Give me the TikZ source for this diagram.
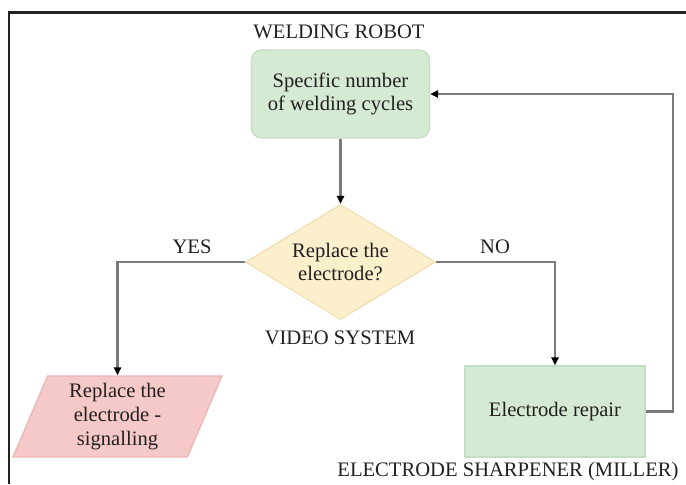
\documentclass[tikz,border=0pt]{standalone}
\usepackage{fontspec}
\setmainfont{Liberation Serif}
\usetikzlibrary{arrows.meta,shapes.geometric}

\definecolor{txt}{HTML}{231F20}
\definecolor{frameline}{HTML}{222222}
\definecolor{flowline}{HTML}{7A7A7A}
\definecolor{greenfill}{HTML}{D5EAD3}
\definecolor{greenedge}{HTML}{C4DEC1}
\definecolor{yellowfill}{HTML}{FCEFCC}
\definecolor{yellowedge}{HTML}{F1DFB2}
\definecolor{redfill}{HTML}{F5C9C8}
\definecolor{rededge}{HTML}{EDB4B3}

\begin{document}
\begin{tikzpicture}[x=0.5pt,y=-0.5pt,
  font=\fontsize{10.3}{11.8}\selectfont,
  every node/.style={text=txt, align=center},
  robotbox/.style={draw=greenedge, fill=greenfill, line width=0.6pt,
    rounded corners=5pt, minimum width=89pt, minimum height=44pt},
  repairbox/.style={draw=greenedge, fill=greenfill, line width=0.6pt,
    minimum width=90pt, minimum height=45.5pt},
  askdiamond/.style={diamond, aspect=1.65, draw=yellowedge, fill=yellowfill, line width=0.6pt,
    inner sep=0pt, minimum width=95pt, minimum height=57.5pt},
  signalbox/.style={trapezium, trapezium stretches body, draw=rededge, fill=redfill,
    line width=0.6pt, trapezium left angle=63.7, trapezium right angle=116.3,
    inner sep=1pt, minimum width=104.5pt, minimum height=40.5pt},
  flow/.style={draw=flowline, line width=1.2pt,
    -{Triangle[length=4pt,width=3.6pt,color=black]}}]
\useasboundingbox (0,0) rectangle (686,484);

% frame
\draw[frameline, line width=1.1pt] (9,484) -- (9,12.5) -- (686,12.5);

% blocks
\node[robotbox] (cycles) at (340.5,94) {Specific number\\of welding cycles};
\node[askdiamond] (question) at (340.5,262) {Replace the\\electrode?};
\node[signalbox] (signal) at (117.5,416.5) {Replace the\\electrode -\\signalling};
\node[repairbox] (repair) at (555,411.5) {Electrode repair};
\coordinate (loopbend) at (673,94);

% captions
\node (robot) at (339,32) {WELDING ROBOT};
\node (video) at (340,338) {VIDEO SYSTEM};
\node (miller) at (508,472) {ELECTRODE SHARPENER (MILLER)};
\node (yes) at (192,247) {YES};
\node (no) at (495,247) {NO};

% connectors
\draw[flow] (cycles.south) -- (question.north);
\draw[flow] (question.west) -| (signal.north);
\draw[flow] (question.east) -| (repair.north);
\draw[flow] (repair.east) -| (loopbend) -- (cycles.east);
\end{tikzpicture}
\end{document}
